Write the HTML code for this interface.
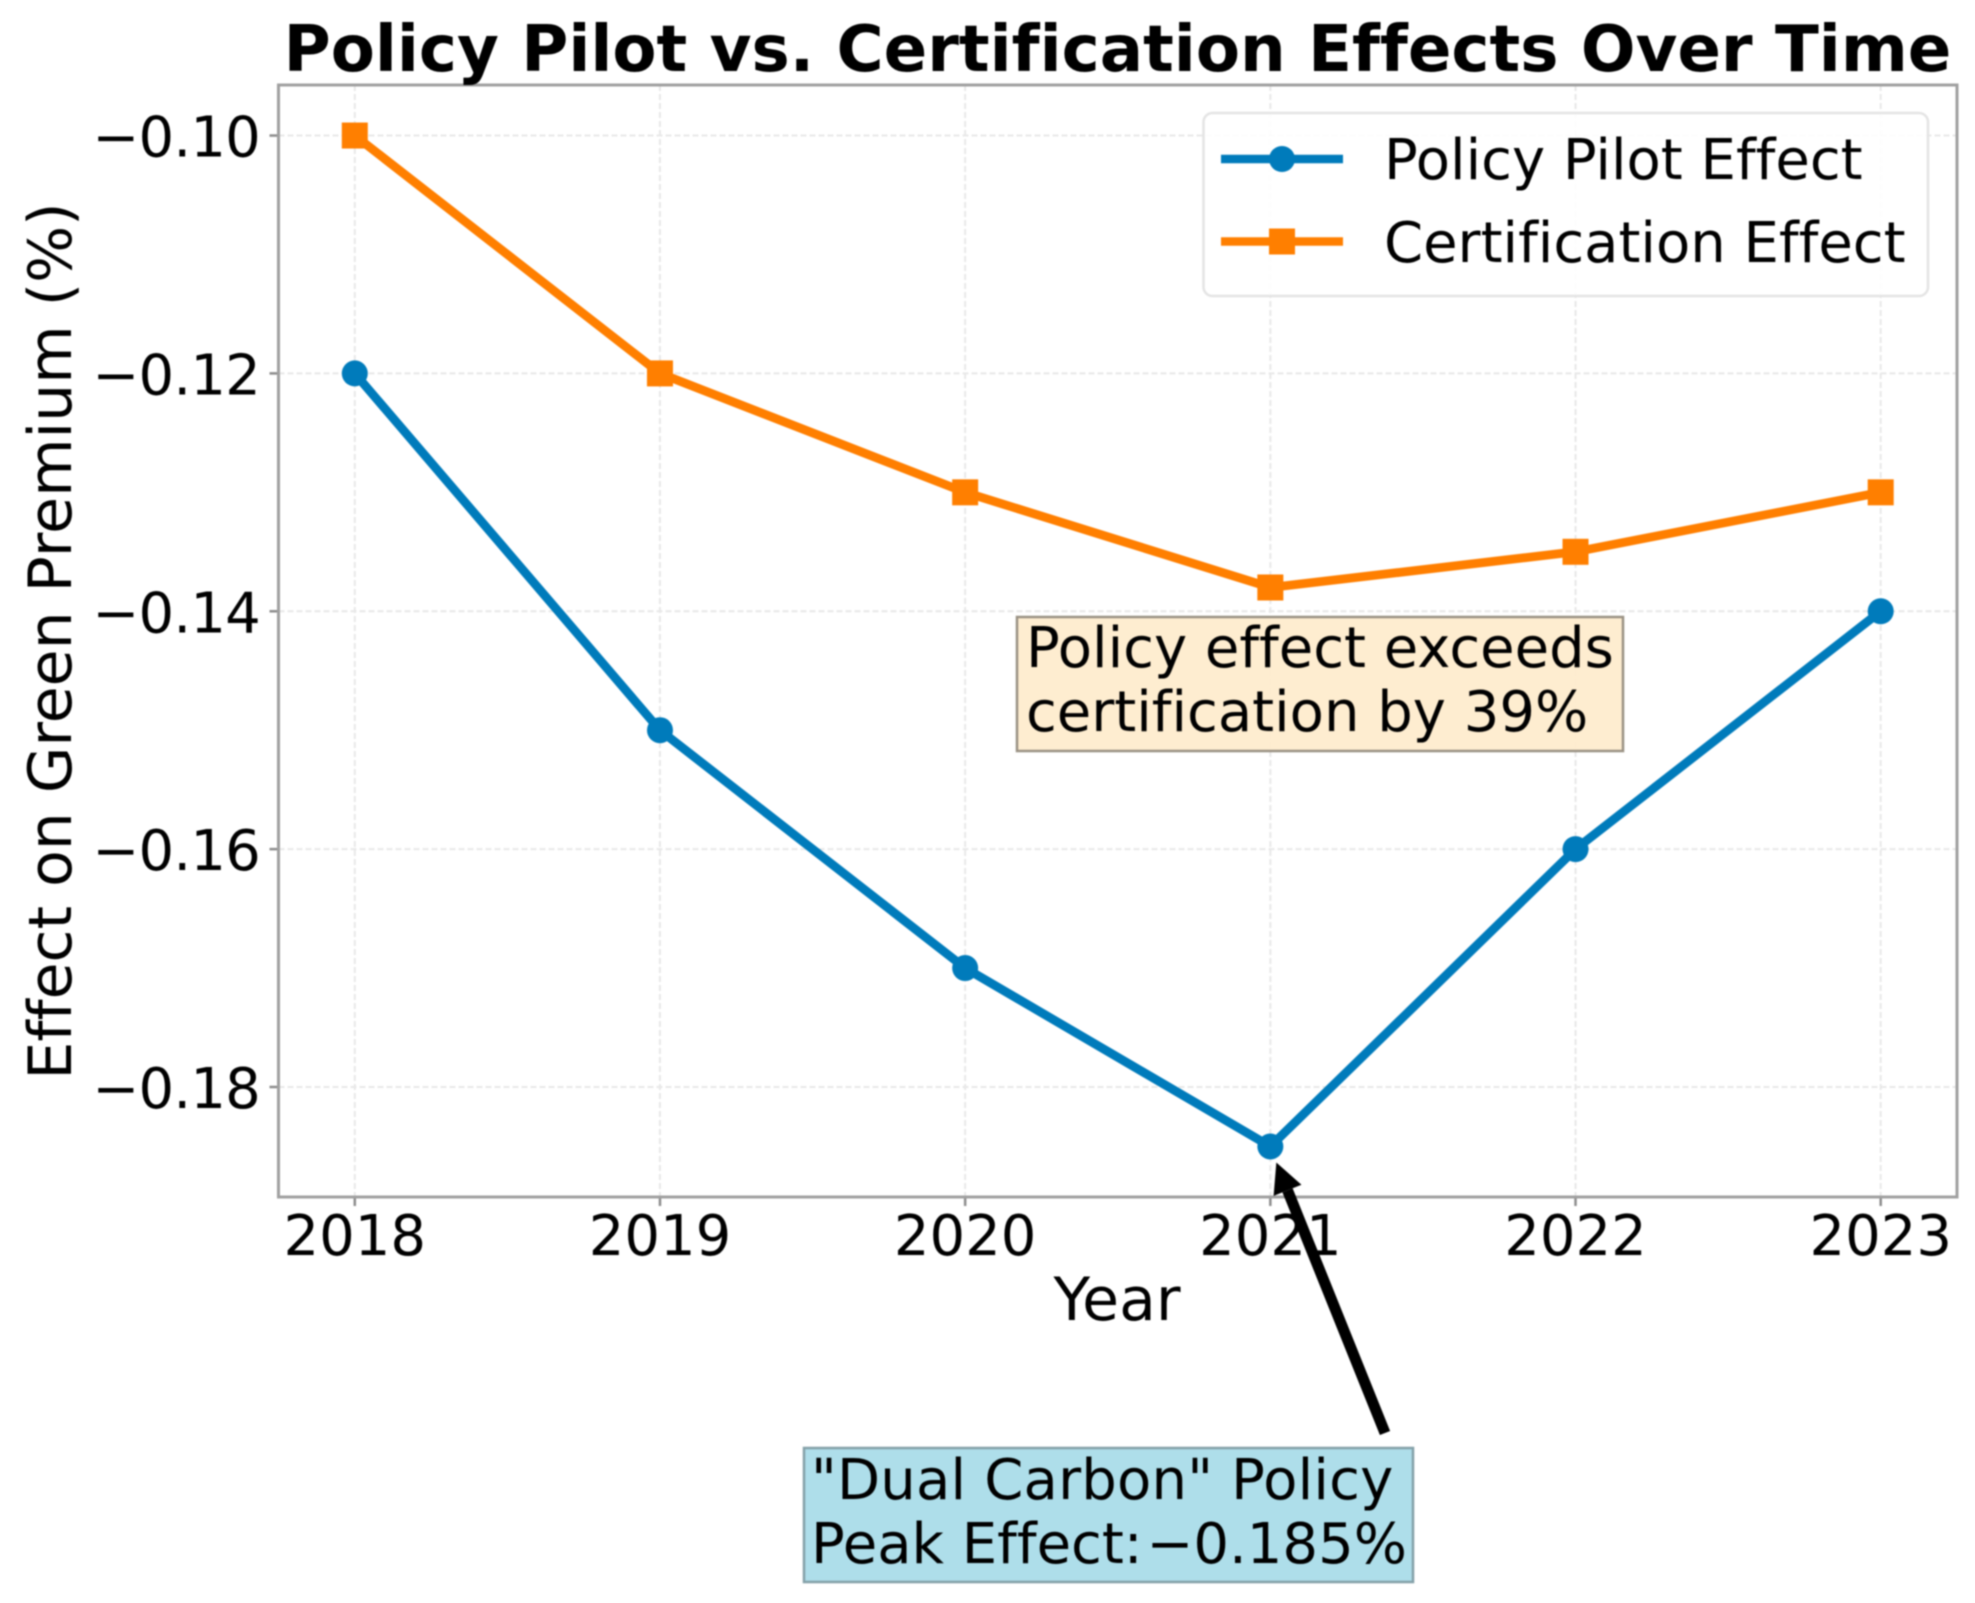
<!DOCTYPE html>
<html lang="en">
<head>
<meta charset="utf-8">
<title>Policy Pilot vs. Certification Effects Over Time</title>
<style>
  html, body { margin: 0; padding: 0; background: #fff; }
  svg { display: block; filter: blur(0.9px); }
  text { font-family: "DejaVu Sans", "Liberation Sans", sans-serif; fill: #000; font-variant-ligatures: none; }
</style>
</head>
<body>
<svg id="chart" xmlns="http://www.w3.org/2000/svg" width="1975" height="1603" viewBox="0 0 1975 1603">
  <rect x="0" y="0" width="1975" height="1603" fill="#ffffff"/>
  <g id="grid"></g>
  <g id="ticks"></g>
  <g id="series"></g>
  <rect x="278.5" y="85" width="1678.5" height="1112" fill="none" stroke="#a0a0a0" stroke-width="3"/>
  <text x="1117.5" y="71" text-anchor="middle" font-size="64.25" font-weight="700">Policy Pilot vs. Certification Effects Over Time</text>
  <text x="1117" y="1320" text-anchor="middle" font-size="60">Year</text>
  <text transform="translate(71 641) rotate(-90)" text-anchor="middle" font-size="60">Effect on Green Premium (%)</text>

  <g>
    <rect x="1203.5" y="113" width="724.5" height="183" rx="9" fill="#ffffff" fill-opacity="0.85" stroke="#e4e4e4" stroke-width="2.5"/>
    <g>
      <line x1="1221" y1="159" x2="1343" y2="159" stroke="#007bbb" stroke-width="8.5"/>
      <circle cx="1282" cy="159" r="13" fill="#007bbb"/>
      <text x="1384" y="179" font-size="56">Policy Pilot Effect</text>
    </g>
    <g>
      <line x1="1221" y1="241.5" x2="1343" y2="241.5" stroke="#ff7f00" stroke-width="8.5"/>
      <rect x="1269" y="228.5" width="26" height="26" fill="#ff7f00"/>
      <text x="1384" y="262" font-size="56">Certification Effect</text>
    </g>
  </g>

  <g>
    <rect x="1017" y="617" width="606" height="134" fill="#feecce" fill-opacity="0.96" stroke="#9a9184" stroke-width="2.5"/>
    <text x="1026" y="667" font-size="56">Policy effect exceeds</text>
    <text x="1026" y="731" font-size="56">certification by 39%</text>
  </g>

  <g id="arrow"></g>

  <g>
    <rect x="804" y="1448" width="609" height="134" fill="#aedeea" stroke="#84a0a8" stroke-width="2.5"/>
    <text x="811" y="1499" font-size="56" letter-spacing="0.2">"Dual Carbon" Policy</text>
    <text x="811" y="1563" font-size="56">Peak Effect: <tspan dx="-14">−0.185%</tspan></text>
  </g>
</svg>
<script>
const years = [2018, 2019, 2020, 2021, 2022, 2023];
const policyEffect = [-0.12, -0.15, -0.17, -0.185, -0.16, -0.14];
const certificationEffect = [-0.10, -0.12, -0.13, -0.138, -0.135, -0.13];
const yTickValues = [-0.10, -0.12, -0.14, -0.16, -0.18];
const yTickLabels = ["−0.10", "−0.12", "−0.14", "−0.16", "−0.18"];
const xTickLabels = ["2018", "2019", "2020", "2021", "2022", "2023"];
const peakYear = 2021;
const peakValue = -0.185;

const NS = "http://www.w3.org/2000/svg";
const plot = { left: 278.5, right: 1957, top: 85, bottom: 1197 };
const xDomain = [2017.75, 2023.25];
const yDomain = [-0.18925, -0.09575];

function xScale(year) {
  return plot.left + (year - xDomain[0]) / (xDomain[1] - xDomain[0]) * (plot.right - plot.left);
}
function yScale(value) {
  return plot.bottom - (value - yDomain[0]) / (yDomain[1] - yDomain[0]) * (plot.bottom - plot.top);
}
function make(tag, parent, attrs) {
  const el = document.createElementNS(NS, tag);
  for (const k in attrs) el.setAttribute(k, attrs[k]);
  parent.appendChild(el);
  return el;
}

const gridGroup = document.getElementById("grid");
const tickGroup = document.getElementById("ticks");
const seriesGroup = document.getElementById("series");
const arrowGroup = document.getElementById("arrow");
const gridStyle = { stroke: "#e8e8e8", "stroke-width": 2, "stroke-dasharray": "6 3" };

years.forEach(function (year, i) {
  const x = xScale(year);
  const grid = make("line", gridGroup, Object.assign({ x1: x, x2: x, y1: plot.top, y2: plot.bottom }, gridStyle));
  
  
  const tick = make("line", tickGroup, { x1: x, x2: x, y1: plot.bottom, y2: plot.bottom + 9, stroke: "#8c8c8c", "stroke-width": 2.5 });
  
  
  const label = make("text", tickGroup, { x: x, y: 1255, "text-anchor": "middle", "font-size": 56 });
  label.textContent = xTickLabels[i];
  
  
});

yTickValues.forEach(function (value, i) {
  const y = yScale(value);
  const grid = make("line", gridGroup, Object.assign({ x1: plot.left, x2: plot.right, y1: y, y2: y }, gridStyle));
  
  
  const tick = make("line", tickGroup, { x1: plot.left - 9, x2: plot.left, y1: y, y2: y, stroke: "#8c8c8c", "stroke-width": 2.5 });
  
  
  const label = make("text", tickGroup, { x: 260, y: y + 21, "text-anchor": "end", "font-size": 56, "letter-spacing": -0.8 });
  label.textContent = yTickLabels[i];
  
  
});

function polyPoints(values) {
  return values.map(function (v, i) { return xScale(years[i]) + "," + yScale(v); }).join(" ");
}

const certLine = make("polyline", seriesGroup, { points: polyPoints(certificationEffect), fill: "none", stroke: "#ff7f00", "stroke-width": 8.8, "stroke-linejoin": "round" });



const policyLine = make("polyline", seriesGroup, { points: polyPoints(policyEffect), fill: "none", stroke: "#007bbb", "stroke-width": 8.8, "stroke-linejoin": "round" });



certificationEffect.forEach(function (v, i) {
  const m = make("rect", seriesGroup, { x: xScale(years[i]) - 13, y: yScale(v) - 13, width: 26, height: 26, fill: "#ff7f00" });
  
  
});

policyEffect.forEach(function (v, i) {
  const m = make("circle", seriesGroup, { cx: xScale(years[i]), cy: yScale(v), r: 13, fill: "#007bbb" });
  
  
});

/* Arrow runs from the peak annotation box to the lowest policy point */
const tipX = xScale(peakYear) + 6;
const tipY = yScale(peakValue) + 16;
const tailX = 1385;
const tailY = 1433;
const len = Math.hypot(tailX - tipX, tailY - tipY);
const ux = (tailX - tipX) / len;
const uy = (tailY - tipY) / len;
const headLen = 30;
const headHalf = 15;
const baseX = tipX + ux * headLen;
const baseY = tipY + uy * headLen;

const shaft = make("line", arrowGroup, { x1: tailX, y1: tailY, x2: baseX, y2: baseY, stroke: "#000", "stroke-width": 11 });



const head = make("polygon", arrowGroup, {
  points: tipX + "," + tipY + " " + (baseX - uy * headHalf) + "," + (baseY + ux * headHalf) + " " + (baseX + uy * headHalf) + "," + (baseY - ux * headHalf),
  fill: "#000"
});


</script>
</body>
</html>
